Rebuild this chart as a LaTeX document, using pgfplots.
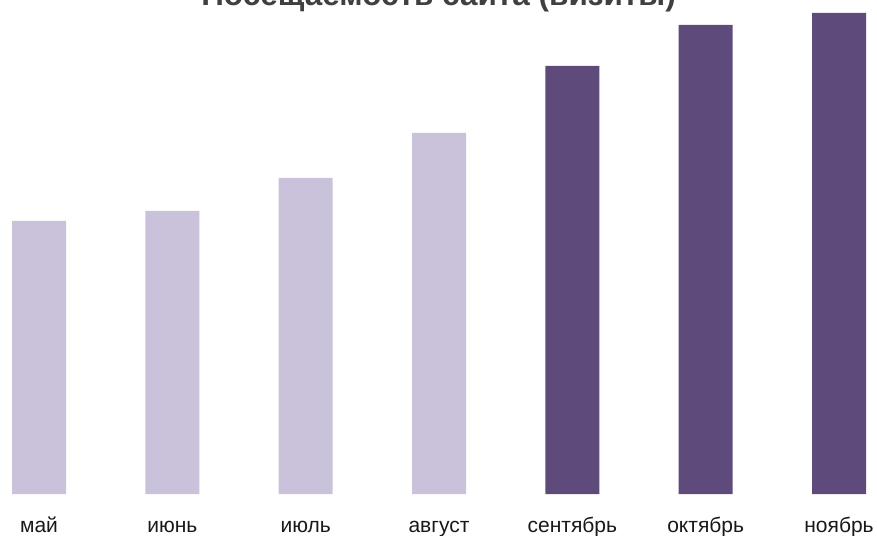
\documentclass[border=0pt]{standalone}
\usepackage{fontspec}
\setmainfont{Liberation Sans}
\usepackage{pgfplots}
\pgfplotsset{compat=1.18}
\definecolor{lightbar}{HTML}{CAC1DA}
\definecolor{darkbar}{HTML}{5E4A7B}
\begin{document}
\begin{tikzpicture}
\begin{axis}[
    scale only axis,
    width=877pt, height=494pt,
    xmin=-0.2925, xmax=6.285,
    ymin=0, ymax=494,
    axis line style={draw=none},
    ytick=\empty,
    xtick={0,1,2,3,4,5,6},
    xticklabels={май,июнь,июль,август,сентябрь,октябрь,ноябрь},
    major tick length=0pt,
    xticklabel style={anchor=base, yshift=-38pt, font=\fontsize{21}{25}\selectfont, text=black!90},
    title={Посещаемость сайта (визиты)},
    title style={at={(0.5,1)}, anchor=base, yshift=-12pt, font=\fontsize{31.5}{38}\selectfont\bfseries, text=black!75},
    ybar, bar width=54pt, bar shift=0pt,
]
\addplot[fill=lightbar, draw=none] coordinates {(0,273) (1,283) (2,316) (3,361)};
\addplot[fill=darkbar, draw=none] coordinates {(4,428) (5,469) (6,481)};
\end{axis}
\pgfresetboundingbox
\path[use as bounding box] ([yshift=-41pt]current axis.south west) rectangle (current axis.north east);
\end{tikzpicture}
\end{document}
